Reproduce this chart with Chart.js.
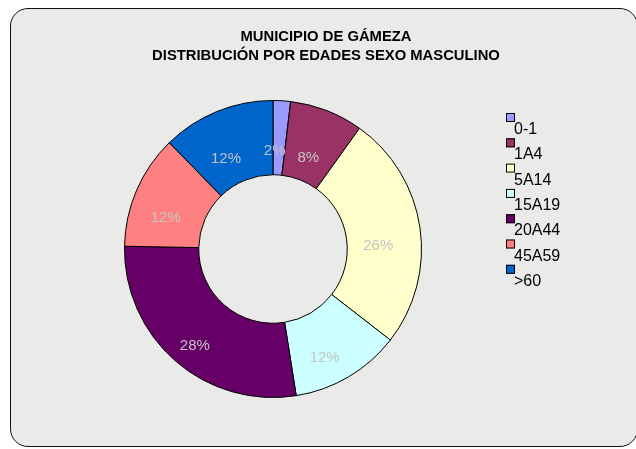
<!DOCTYPE html>
<html>
<head>
<meta charset="utf-8">
<script src="https://cdn.jsdelivr.net/npm/chart.js@4/dist/chart.umd.min.js"></script>
<style>
  html, body { margin: 0; padding: 0; background: #fff; }
  #wrap { position: relative; width: 636px; height: 449px; overflow: hidden; }
  #frame { position: absolute; left: 10px; top: 8px; width: 628px; height: 439px;
           border: 1.5px solid #111; border-radius: 18px; background: #eaeae8; box-sizing: border-box; }
  canvas { position: absolute; left: 0; top: 0; }
</style>
</head>
<body>
<div id="wrap">
  <div id="frame"></div>
  <canvas id="c" width="636" height="449"></canvas>
</div>
<script>
// datos
const categorias = ['0-1', '1A4', '5A14', '15A19', '20A44', '45A59', '>60'];
const valores = [1.9, 8.0, 25.6, 12.0, 27.8, 12.4, 12.3];
const colores = ['#9999ff', '#993366', '#ffffcc', '#ccffff', '#660066', '#ff8080', '#0066cc'];
const titulo = ['MUNICIPIO DE GÁMEZA', 'DISTRIBUCIÓN POR EDADES SEXO MASCULINO'];

const fuente = '"Liberation Sans", Arial, sans-serif';

// título, porcentajes y leyenda dibujados a mano
const extras = {
  id: 'extras',
  afterDatasetsDraw(chart) {
    const ctx = chart.ctx;
    const meta = chart.getDatasetMeta(0);
    const total = valores.reduce((a, b) => a + b, 0);
    ctx.save();
    ctx.font = '15px ' + fuente;
    ctx.fillStyle = '#c4c4c4';
    ctx.textAlign = 'center';
    ctx.textBaseline = 'middle';
    meta.data.forEach((arc, i) => {
      const p = arc.tooltipPosition();
      // Excel deja las etiquetas un poco abajo a la izquierda
      ctx.fillText(Math.round(valores[i] / total * 100) + '%', p.x - 5, p.y + 13);
    });
    ctx.restore();
  },
  afterDraw(chart) {
    const ctx = chart.ctx;
    ctx.save();
    ctx.fillStyle = '#000';
    ctx.font = 'bold 14.8px ' + fuente;
    ctx.textAlign = 'center';
    ctx.textBaseline = 'middle';
    titulo.forEach((t, i) => ctx.fillText(t, 326, 37 + i * 19));

    ctx.font = '16px ' + fuente;
    ctx.textAlign = 'left';
    ctx.textBaseline = 'alphabetic';
    categorias.forEach((c, i) => {
      const y = 113 + i * 25.3;
      ctx.fillStyle = colores[i];
      ctx.fillRect(506, y, 9, 9);
      ctx.strokeStyle = '#000';
      ctx.lineWidth = 1;
      ctx.strokeRect(506.5, y + 0.5, 8, 8);
      ctx.fillStyle = '#000';
      ctx.fillText(c, 514, y + 21);
    });
    ctx.restore();
  }
};

new Chart(document.getElementById('c'), {
  type: 'doughnut',
  data: {
    labels: categorias,
    datasets: [{
      data: valores,
      backgroundColor: colores,
      borderColor: '#000',
      borderWidth: 1,
      hoverOffset: 0
    }]
  },
  options: {
    responsive: false,
    animation: false,
    cutout: '50%',
    layout: { padding: { left: 124, right: 214, top: 100, bottom: 51 } },
    plugins: {
      legend: { display: false },
      title: { display: false },
      tooltip: { enabled: false }
    }
  },
  plugins: [extras]
});
</script>
</body>
</html>
